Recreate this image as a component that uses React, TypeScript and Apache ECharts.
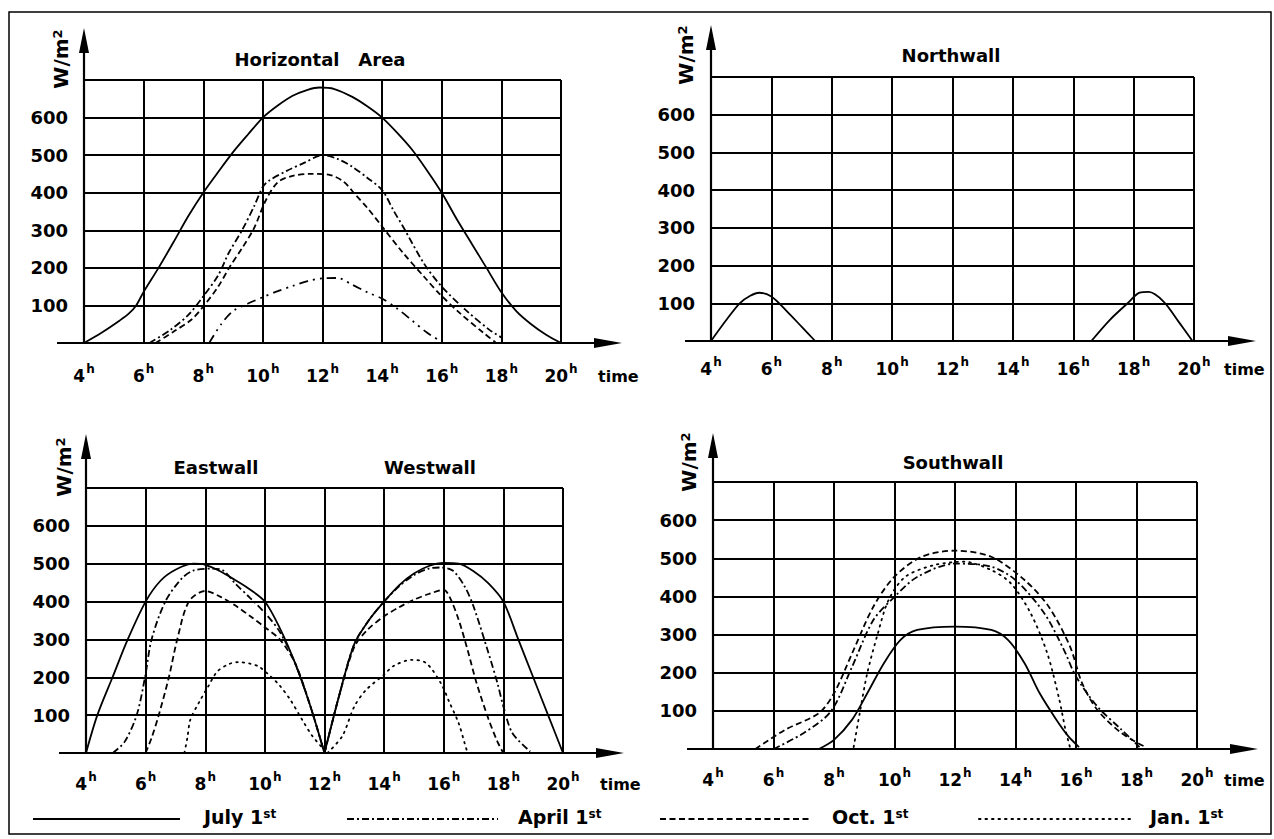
import React, { useEffect, useRef } from 'react';
import * as echarts from 'echarts';

type Pt = [number, number];

// ---------- tick labels ----------
const hourTicks = [4, 6, 8, 10, 12, 14, 16, 18, 20];
const valueTicks = [100, 200, 300, 400, 500, 600];

// ---------- Horizontal area ----------
const haJuly: Pt[] = [[4, 0], [4.6, 28], [5.2, 60], [5.5, 78], [5.75, 100], [6, 136], [6.5, 200], [7, 268], [7.5, 338], [8, 400], [8.5, 455], [9, 508], [9.5, 555], [10, 600], [10.5, 632], [11, 658], [11.5, 674], [11.9, 680], [12.4, 676], [13, 655], [13.5, 630], [14, 600], [14.5, 560], [15, 515], [15.5, 460], [16, 400], [16.5, 330], [17, 265], [17.5, 200], [18, 135], [18.5, 85], [19, 50], [19.5, 22], [20, 0]];
const haApril: Pt[] = [[6.2, 0], [6.9, 35], [7.5, 75], [8, 124], [8.5, 180], [8.85, 239], [9.3, 300], [9.7, 363], [10, 416], [10.2, 432], [10.8, 458], [11.4, 480], [12, 500], [12.5, 490], [13, 469], [13.5, 440], [14, 407], [14.4, 350], [14.7, 310], [15.4, 212], [16, 150], [16.8, 88], [17.6, 35], [18, 15]];
const haOct: Pt[] = [[6.4, 0], [7, 30], [7.6, 62], [8, 97], [8.5, 150], [8.9, 204], [9.3, 252], [9.7, 305], [10.1, 380], [10.5, 428], [11, 445], [11.6, 450], [12.2, 448], [12.7, 430], [13.1, 395], [13.5, 360], [14, 310], [14.7, 240], [15.4, 177], [15.9, 133], [16.6, 80], [17.4, 27], [17.8, 2]];
const haJan: Pt[] = [[8.2, 0], [8.6, 50], [9, 85], [9.5, 105], [10, 122], [10.5, 138], [11, 152], [11.5, 165], [12, 172], [12.5, 173], [13, 155], [13.5, 135], [14, 118], [14.5, 92], [15, 60], [15.5, 28], [16, 3]];

// ---------- Northwall ----------
const nMorning: Pt[] = [[4, 0], [4.5, 55], [4.95, 100], [5.3, 120], [5.6, 128], [6, 118], [6.5, 80], [7, 38], [7.45, 0]];
const nEvening: Pt[] = [[16.6, 0], [17.2, 55], [17.8, 100], [18.2, 128], [18.5, 130], [19, 104], [19.5, 50], [19.95, 0]];

// ---------- Eastwall ----------
const eJuly: Pt[] = [[4, 0], [4.38, 100], [4.89, 200], [5.4, 300], [6, 400], [6.5, 455], [7, 484], [7.6, 500], [8, 497], [8.5, 480], [9, 457], [9.5, 432], [10, 400], [10.5, 330], [11, 240], [11.5, 130], [12, 0]];
const eApril: Pt[] = [[4.9, 0], [5.3, 30], [5.7, 100], [5.98, 200], [6.2, 300], [6.66, 400], [7.2, 460], [7.6, 482], [8.2, 487], [8.6, 482], [9, 448], [9.5, 410], [10, 370], [10.5, 320], [11, 240], [11.5, 130], [12, 0]];
const eOct: Pt[] = [[6, 0], [6.2, 40], [6.44, 100], [6.78, 200], [7.06, 300], [7.45, 400], [8, 428], [8.5, 413], [9, 390], [9.5, 362], [10, 332], [10.5, 300], [11, 240], [11.5, 130], [12, 0]];
const eJan: Pt[] = [[7.3, 0], [7.4, 40], [7.5, 88], [7.8, 135], [8.1, 176], [8.4, 215], [8.8, 235], [9.1, 240], [9.5, 236], [9.8, 228], [10.2, 202], [10.5, 178], [10.85, 141], [11.25, 88], [11.6, 44], [12, 8]];

// ---------- Westwall ----------
const wJuly: Pt[] = [[12, 0], [12.5, 154], [13, 288], [13.5, 352], [14, 400], [14.5, 443], [15, 474], [15.5, 494], [16, 502], [16.5, 500], [17, 480], [17.5, 448], [18, 400], [18.5, 300], [19, 200], [19.5, 100], [20, 0]];
const wApril: Pt[] = [[12, 0], [12.5, 154], [13, 288], [13.5, 352], [14, 400], [14.5, 440], [15, 470], [15.5, 487], [15.9, 490], [16.3, 482], [16.7, 440], [17, 387], [17.5, 264], [17.8, 185], [18, 123], [18.3, 53], [18.9, 4]];
const wOct: Pt[] = [[12, 0], [12.5, 154], [13, 280], [13.45, 326], [14, 361], [14.5, 385], [15, 405], [15.5, 420], [16, 431], [16.2, 412], [16.5, 352], [16.8, 272], [17.1, 185], [17.5, 90], [17.8, 30], [18, 0]];
const wJan: Pt[] = [[12.1, 0], [12.6, 45], [13, 123], [13.4, 167], [14, 207], [14.3, 229], [14.9, 246], [15.4, 238], [15.9, 185], [16.2, 132], [16.5, 79], [16.7, 26], [16.8, 0]];

// ---------- Southwall ----------
const sJuly: Pt[] = [[7.5, 0], [8, 24], [8.6, 77], [9.1, 146], [9.65, 225], [10.2, 286], [10.75, 312], [12, 321], [13.2, 312], [13.75, 286], [14.3, 225], [14.8, 146], [15.35, 77], [15.75, 33], [16.1, 5]];
const sApril: Pt[] = [[6, 0], [7, 42], [7.9, 99], [8.6, 216], [9.3, 338], [10, 399], [10.75, 451], [12, 486], [13.2, 478], [14, 443], [14.95, 356], [15.6, 260], [16, 190], [16.7, 112], [17.5, 51], [18.1, 5]];
const sOct: Pt[] = [[5.4, 0], [6.4, 51], [7.5, 94], [8, 146], [8.6, 251], [9.3, 373], [10, 452], [10.9, 504], [12, 520], [13.2, 504], [14.3, 443], [15.1, 373], [15.8, 269], [16.2, 173], [16.7, 103], [17.5, 42], [18.3, 5]];
const sJan: Pt[] = [[8.65, 5], [8.85, 94], [9.1, 199], [9.45, 303], [9.8, 390], [10.35, 451], [11.3, 482], [12.3, 491], [13.2, 469], [13.85, 434], [14.5, 356], [15.05, 251], [15.45, 129], [15.65, 51], [15.8, 5]];

// ---------- styles / layout ----------
const FONT = 'DejaVu Sans';
const DASH_APRIL = [7, 3, 2, 3];
const DASH_OCT = [6, 3.5];
const DASH_JAN = [1.5, 5];
const DASH_JAN_HA = [9, 5, 2, 5, 2, 5];

const panels = [
  { left: 84, top: 80, width: 477, height: 263, xStart: 57, xTip: 622, yTip: 28, unitX: 61, unitY: 59, timeX: 598, margin: 20 },
  { left: 711, top: 77, width: 483, height: 264, xStart: 685, xTip: 1256, yTip: 25, unitX: 686, unitY: 55, timeX: 1224, margin: 15 },
  { left: 86, top: 488, width: 477, height: 265, xStart: 59, xTip: 624, yTip: 434, unitX: 64, unitY: 467, timeX: 600, margin: 18 },
  { left: 713, top: 482, width: 484, height: 267, xStart: 687, xTip: 1258, yTip: 433, unitX: 689, unitY: 462, timeX: 1224, margin: 18 },
];

const titles = [
  { text: 'Horizontal   Area', x: 320, y: 59 },
  { text: 'Northwall', x: 951, y: 55 },
  { text: 'Eastwall', x: 216, y: 467 },
  { text: 'Westwall', x: 430, y: 467 },
  { text: 'Southwall', x: 953, y: 462 },
];

const legendItems = [
  { label: 'July', x0: 33, x1: 180, tx: 204, dash: 'solid' as any },
  { label: 'April', x0: 347, x1: 498, tx: 518, dash: DASH_APRIL },
  { label: 'Oct.', x0: 660, x1: 811, tx: 832, dash: DASH_OCT },
  { label: 'Jan.', x0: 979, x1: 1130, tx: 1150, dash: DASH_JAN },
];

const seriesDefs: { panel: number; name: string; data: Pt[]; dash: any }[] = [
  { panel: 3, name: 'July', data: sJuly, dash: 'solid' },
  { panel: 3, name: 'April', data: sApril, dash: DASH_APRIL },
  { panel: 3, name: 'Oct.', data: sOct, dash: DASH_OCT },
  { panel: 3, name: 'Jan.', data: sJan, dash: DASH_JAN },
  { panel: 0, name: 'July', data: haJuly, dash: 'solid' },
  { panel: 0, name: 'April', data: haApril, dash: DASH_APRIL },
  { panel: 0, name: 'Oct.', data: haOct, dash: DASH_OCT },
  { panel: 0, name: 'Jan.', data: haJan, dash: DASH_JAN_HA },
  { panel: 1, name: 'July', data: nMorning, dash: 'solid' },
  { panel: 1, name: 'July', data: nEvening, dash: 'solid' },
  { panel: 2, name: 'July', data: eJuly, dash: 'solid' },
  { panel: 2, name: 'April', data: eApril, dash: DASH_APRIL },
  { panel: 2, name: 'Oct.', data: eOct, dash: DASH_OCT },
  { panel: 2, name: 'Jan.', data: eJan, dash: DASH_JAN },
  { panel: 2, name: 'July', data: wJuly, dash: 'solid' },
  { panel: 2, name: 'April', data: wApril, dash: DASH_APRIL },
  { panel: 2, name: 'Oct.', data: wOct, dash: DASH_OCT },
  { panel: 2, name: 'Jan.', data: wJan, dash: DASH_JAN },
];

export default function App() {
  const ref = useRef<HTMLDivElement>(null);
  useEffect(() => {
    document.body.style.margin = '0';
    const chart = echarts.init(ref.current!, null, { renderer: 'svg' });

    const grid = panels.map((p) => ({
      left: p.left, top: p.top, width: p.width, height: p.height,
      containLabel: false, outerBoundsMode: 'none',
    }));

    const xAxis = panels.map((p, i) => ({
      gridIndex: i, type: 'value', min: 4, max: 20, interval: 2,
      axisLine: { show: false }, axisTick: { show: false },
      splitLine: { show: true, showMinLine: true, showMaxLine: true, lineStyle: { color: '#000', width: 2 } },
      axisLabel: {
        margin: p.margin,
        formatter: (v: number) => (hourTicks.includes(v) ? `{n|${v}}{s|h}` : ''),
        rich: {
          n: { fontFamily: FONT, fontSize: 17, fontWeight: 'bold', color: '#000', lineHeight: 21, verticalAlign: 'bottom' },
          s: { fontFamily: FONT, fontSize: 12, fontWeight: 'bold', color: '#000', verticalAlign: 'top', padding: [0, 0, 0, 1] },
        },
      },
    }));

    const yAxis = panels.map((_p, i) => ({
      gridIndex: i, type: 'value', min: 0, max: 700, interval: 100,
      axisLine: { show: false }, axisTick: { show: false },
      splitLine: { show: true, showMinLine: true, showMaxLine: true, lineStyle: { color: '#000', width: 2 } },
      axisLabel: {
        margin: 16, color: '#000', fontFamily: FONT, fontSize: 18, fontWeight: 'bold',
        formatter: (v: number) => (valueTicks.includes(v) ? String(v) : ''),
      },
    }));

    const series = seriesDefs.map((s) => ({
      type: 'line', name: s.name, xAxisIndex: s.panel, yAxisIndex: s.panel,
      data: s.data, symbol: 'none', smooth: 0.3,
      lineStyle: { color: '#000', width: 1.8, type: s.dash, cap: s.dash === DASH_JAN ? 'round' : 'butt' },
      z: 5,
    }));

    const graphic: any[] = [];
    // outer frame
    graphic.push({ type: 'rect', shape: { x: 9, y: 12, width: 1262, height: 822 }, style: { fill: 'none', stroke: '#000', lineWidth: 1.5 }, silent: true });

    panels.forEach((p) => {
      const zeroY = p.top + p.height;
      graphic.push({ type: 'line', shape: { x1: p.xStart, y1: zeroY, x2: p.xTip - 20, y2: zeroY }, style: { stroke: '#000', lineWidth: 2.2 }, z: 10 });
      graphic.push({ type: 'polygon', shape: { points: [[p.xTip, zeroY], [p.xTip - 28, zeroY - 5], [p.xTip - 28, zeroY + 5]] }, style: { fill: '#000' }, z: 10 });
      graphic.push({ type: 'line', shape: { x1: p.left, y1: zeroY, x2: p.left, y2: p.yTip + 18 }, style: { stroke: '#000', lineWidth: 2.2 }, z: 10 });
      graphic.push({ type: 'polygon', shape: { points: [[p.left, p.yTip], [p.left - 5, p.yTip + 25], [p.left + 5, p.yTip + 25]] }, style: { fill: '#000' }, z: 10 });
      graphic.push({
        type: 'text', x: p.unitX, y: p.unitY, rotation: Math.PI / 2, z: 10,
        style: {
          text: 'W/m{s|2}', fontFamily: FONT, fontSize: 20, fontWeight: 'bold', fill: '#000',
          align: 'center', verticalAlign: 'middle',
          rich: { s: { fontFamily: FONT, fontSize: 13, fontWeight: 'bold', fill: '#000', verticalAlign: 'top' } },
        },
      });
      graphic.push({
        type: 'text', x: p.timeX, y: zeroY + p.margin + 13, z: 10,
        style: { text: 'time', fontFamily: FONT, fontSize: 16, fontWeight: 'bold', fill: '#000', align: 'left', verticalAlign: 'middle' },
      });
    });

    titles.forEach((t) => {
      graphic.push({
        type: 'text', x: t.x, y: t.y, z: 10,
        style: { text: t.text, fontFamily: FONT, fontSize: 18, fontWeight: 'bold', fill: '#000', align: 'center', verticalAlign: 'middle' },
      });
    });

    legendItems.forEach((l) => {
      graphic.push({
        type: 'line', shape: { x1: l.x0, y1: 819, x2: l.x1, y2: 819 }, z: 10,
        style: { stroke: '#000', lineWidth: 2, lineDash: l.dash === 'solid' ? null : l.dash, lineCap: l.dash === DASH_JAN ? 'round' : 'butt' },
      });
      graphic.push({
        type: 'text', x: l.tx, y: 817, z: 10,
        style: {
          text: `${l.label} 1{s|st}`, fontFamily: FONT, fontSize: 19, fontWeight: 'bold', fill: '#000',
          align: 'left', verticalAlign: 'middle',
          rich: { s: { fontFamily: FONT, fontSize: 12, fontWeight: 'bold', fill: '#000', verticalAlign: 'top' } },
        },
      });
    });

    chart.setOption({
      animation: false,
      backgroundColor: '#fff',
      grid, xAxis, yAxis, series, graphic,
    } as any);
    return () => chart.dispose();
  }, []);
  return <div ref={ref} style={{ width: 1274, height: 839, background: '#fff' }} />;
}
